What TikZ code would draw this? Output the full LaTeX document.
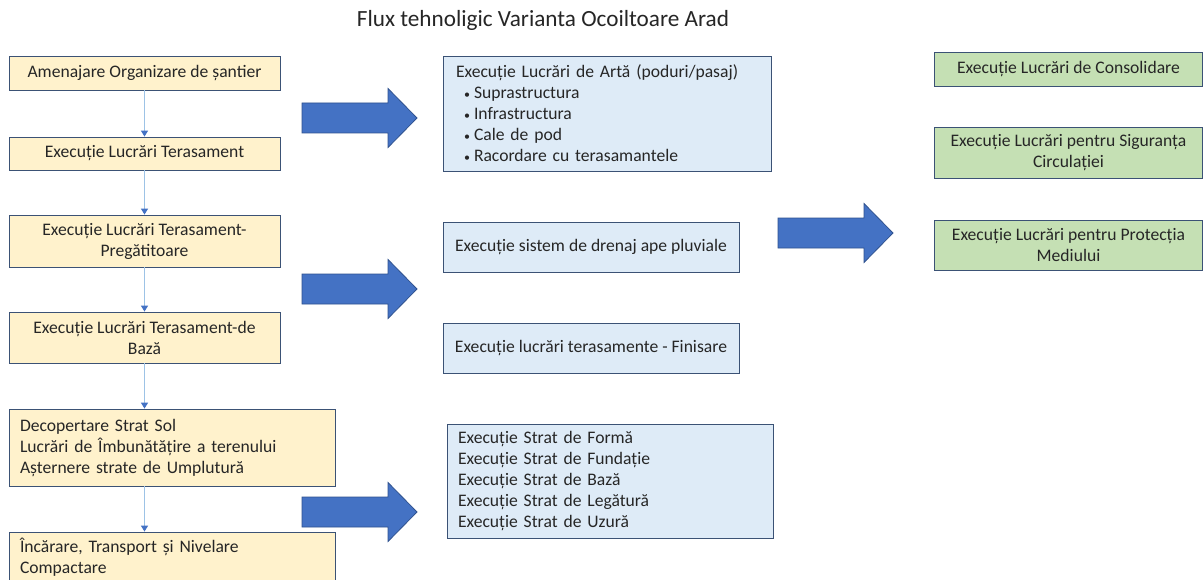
\documentclass[tikz,border=0pt]{standalone}
\usepackage{fontspec}
\setmainfont{Carlito}
\usetikzlibrary{arrows.meta}
\definecolor{yfill}{HTML}{FFF2CC}
\definecolor{bfill}{HTML}{DEEBF7}
\definecolor{gfill}{HTML}{C5E0B4}
\definecolor{edge}{HTML}{3B5275}
\definecolor{arrfill}{HTML}{4472C4}
\definecolor{arredge}{HTML}{2F528F}
\definecolor{connline}{HTML}{9DC3E6}
\newcommand{\blt}{\hspace*{8pt}\makebox[10pt][l]{\fontsize{12}{12}\selectfont •}}
\tikzset{
  boxbase/.style={draw=edge, line width=0.8pt, inner sep=0pt, font=\fontsize{17.6}{21}\selectfont, text=black!85},
  ybox/.style={boxbase, fill=yfill, align=center},
  bbox/.style={boxbase, fill=bfill, align=center},
  gbox/.style={boxbase, fill=gfill, align=center},
  lbox/.style={boxbase, align=left, inner xsep=11pt},
  conn/.style={draw=connline, line width=1.2pt, -{Triangle[length=6pt,width=7pt,color=arrfill]}},
  bigarr/.pic={\draw[fill=arrfill, draw=arredge, line width=0.8pt] (0,-15)--(86,-15)--(86,-29.5)--(115,0)--(86,29.5)--(86,15)--(0,15)--cycle;}
}
\begin{document}
\begin{tikzpicture}[x=1pt,y=-1pt]
\useasboundingbox (0,0) rectangle (1204,580);
\fill[white] (0,0) rectangle (1204,580);

\node[font=\fontsize{23.2}{27}\selectfont, text=black!85] (title) at (543,20) {Flux tehnoligic Varianta Ocoiltoare Arad};

% left column
\node[ybox, minimum width=271, minimum height=34] (n1) at (144.5,73) {Amenajare Organizare de șantier};
\node[ybox, minimum width=271, minimum height=33] (n2) at (144.5,153.5) {Execuție Lucrări Terasament};
\node[ybox, minimum width=271, minimum height=52] (n3) at (144.5,241) {Execuție Lucrări Terasament-\\Pregătitoare};
\node[ybox, minimum width=271, minimum height=51] (n4) at (144.5,337.5) {Execuție Lucrări Terasament-de\\Bază};
\node[lbox, fill=yfill, text width=304, minimum width=326, minimum height=77] (n5) at (172,447.5) {Decopertare Strat Sol\\Lucrări de Îmbunătățire a terenului\\Așternere strate de Umplutură};
\node[lbox, fill=yfill, text width=304, minimum width=326, minimum height=50] (n6) at (172,557) {Încărare, Transport și Nivelare\\Compactare};

\draw[conn] (n1) -- (n2);
\draw[conn] (n2) -- (n3);
\draw[conn] (n3) -- (n4);
\draw[conn] (n4.south) -- (n4.south |- n5.north);
\draw[conn] (n4.south |- n5.south) -- (n4.south |- n6.north);

% big arrows
\pic at (302,118) {bigarr};
\pic at (302,289) {bigarr};
\pic at (302,512) {bigarr};
\pic at (778,233) {bigarr};

% middle column
\node[lbox, fill=bfill, inner xsep=13pt, text width=302, minimum width=328, minimum height=115] (a) at (607,113.5) {Execuție Lucrări de Artă (poduri/pasaj)\\
\blt Suprastructura\\
\blt Infrastructura\\
\blt Cale de pod\\
\blt Racordare cu terasamantele};
\node[bbox, minimum width=296, minimum height=50] (b) at (591,247) {Execuție sistem de drenaj ape pluviale};
\node[bbox, minimum width=296, minimum height=50] (c) at (591,348) {Execuție lucrări terasamente - Finisare};
\node[lbox, fill=bfill, text width=304, minimum width=326, minimum height=114] (d) at (610,481) {Execuție Strat de Formă\\Execuție Strat de Fundație\\Execuție Strat de Bază\\Execuție Strat de Legătură\\Execuție Strat de Uzură};

% right column
\node[gbox, minimum width=268, minimum height=34] (e) at (1068.5,69) {Execuție Lucrări de Consolidare};
\node[gbox, minimum width=268, minimum height=51] (f) at (1068.5,152.5) {Execuție Lucrări pentru Siguranța\\Circulației};
\node[gbox, minimum width=268, minimum height=50] (g) at (1068.5,245) {Execuție Lucrări pentru Protecția\\Mediului};
\end{tikzpicture}
\end{document}
